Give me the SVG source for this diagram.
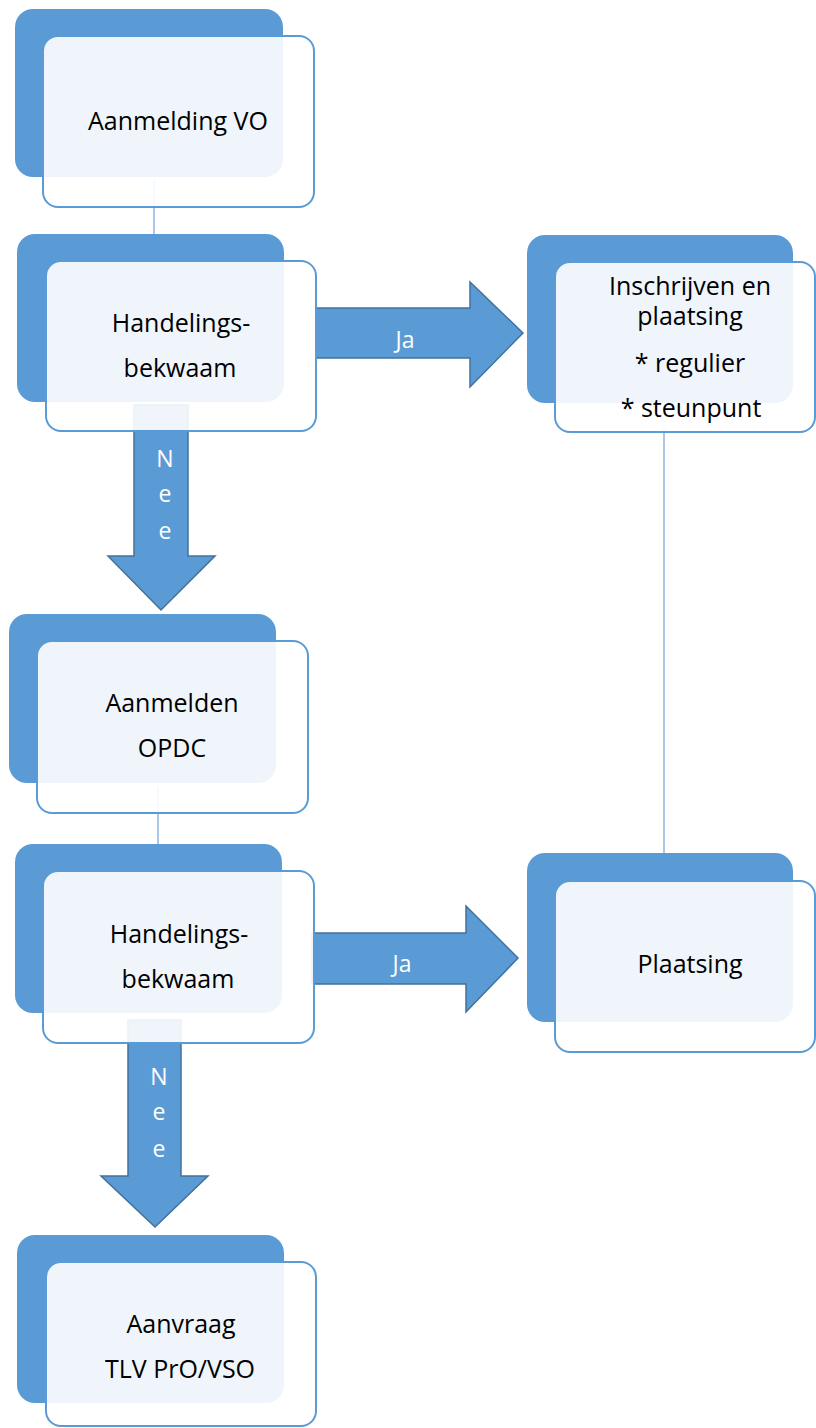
<svg xmlns="http://www.w3.org/2000/svg" width="816" height="1428" viewBox="0 0 816 1428">
<style>
.dark{fill:#5B9BD5;}
.light{fill:#FFFFFF;fill-opacity:0.9;stroke:#5B9BD5;stroke-width:2;}
.t{font-family:"Open Sans","Noto Sans",sans-serif;font-size:25px;fill:#000;text-anchor:middle;}
.w{font-family:"Open Sans","Noto Sans",sans-serif;font-size:23px;fill:#FFFFFF;text-anchor:middle;}
.arrow{fill:#5B9BD5;stroke:#41719C;stroke-width:1.5;}
.line{stroke:#7FA9DC;stroke-width:1.3;fill:none;}
</style>
<rect width="816" height="1428" fill="#FFFFFF"/>
<g id="connectors">
<line class="line" x1="154" y1="180" x2="154" y2="234"/>
<line class="line" x1="158" y1="787" x2="158" y2="844"/>
<line class="line" x1="664" y1="428" x2="664" y2="853"/>
<g id="arrow-ja-1">
<path class="arrow" d="M316,308 L470,308 L470,282 L523,333 L470,387 L470,358 L316,358 Z"/>
<text class="w" x="405" y="348">Ja</text>
</g>
<g id="arrow-nee-1">
<path class="arrow" d="M134,405 L188,405 L188,556 L215,556 L161,610 L108,556 L134,556 Z"/>
<text class="w" x="165" y="467">N</text>
<text class="w" x="165" y="502">e</text>
<text class="w" x="165" y="539">e</text>
</g>
<g id="arrow-ja-2">
<path class="arrow" d="M312,933 L466,933 L466,906 L518,958 L466,1012 L466,984 L312,984 Z"/>
<text class="w" x="402" y="972">Ja</text>
</g>
<g id="arrow-nee-2">
<path class="arrow" d="M128,1020 L181,1020 L181,1176 L208,1176 L155,1227 L101,1176 L128,1176 Z"/>
<text class="w" x="159" y="1085">N</text>
<text class="w" x="159" y="1120">e</text>
<text class="w" x="159" y="1157">e</text>
</g>
</g>
<g id="node-aanmelding-vo">
<rect class="dark" x="15" y="9" width="268" height="168" rx="18"/>
<rect class="light" x="43" y="36" width="271" height="171" rx="15"/>
<text class="t" x="178" y="130">Aanmelding VO</text>
</g>
<g id="node-handelingsbekwaam-1">
<rect class="dark" x="17" y="234" width="267" height="168" rx="18"/>
<rect class="light" x="46" y="261" width="270" height="170" rx="15"/>
<text class="t" x="181" y="332">Handelings-</text>
<text class="t" x="180" y="377">bekwaam</text>
</g>
<g id="node-inschrijven">
<rect class="dark" x="527" y="235" width="266" height="168" rx="18"/>
<rect class="light" x="555" y="262" width="260" height="170" rx="15"/>
<text class="t" x="690" y="295">Inschrijven en</text>
<text class="t" x="690" y="325">plaatsing</text>
<text class="t" x="690" y="372">* regulier</text>
<text class="t" x="691" y="417">* steunpunt</text>
</g>
<g id="node-aanmelden-opdc">
<rect class="dark" x="9" y="614" width="267" height="169" rx="18"/>
<rect class="light" x="37" y="641" width="271" height="172" rx="15"/>
<text class="t" x="172" y="712">Aanmelden</text>
<text class="t" x="172" y="757">OPDC</text>
</g>
<g id="node-handelingsbekwaam-2">
<rect class="dark" x="15" y="844" width="267" height="169" rx="18"/>
<rect class="light" x="43" y="871" width="271" height="172" rx="15"/>
<text class="t" x="179" y="943">Handelings-</text>
<text class="t" x="178" y="988">bekwaam</text>
</g>
<g id="node-plaatsing">
<rect class="dark" x="527" y="853" width="266" height="169" rx="18"/>
<rect class="light" x="555" y="881" width="260" height="171" rx="15"/>
<text class="t" x="690" y="973">Plaatsing</text>
</g>
<g id="node-aanvraag-tlv">
<rect class="dark" x="17" y="1235" width="267" height="168" rx="18"/>
<rect class="light" x="46" y="1262" width="270" height="164" rx="15"/>
<text class="t" x="181" y="1333">Aanvraag</text>
<text class="t" x="180" y="1378">TLV PrO/VSO</text>
</g>
</svg>
